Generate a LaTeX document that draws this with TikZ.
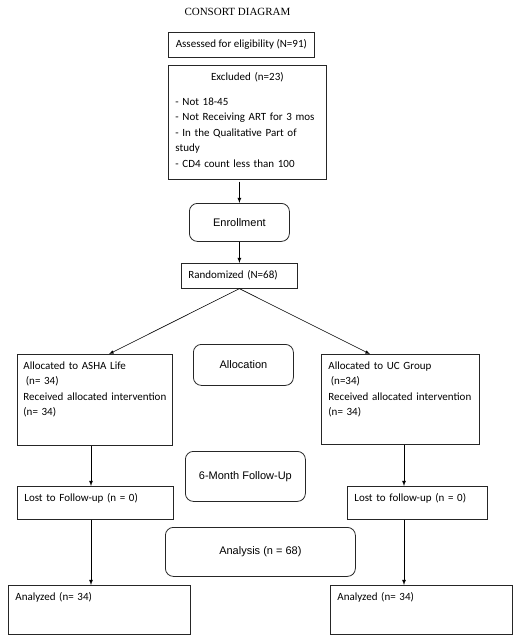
\documentclass[tikz,border=0pt]{standalone}
\usepackage{fontspec}
\newfontfamily\carlito{Carlito}
\newfontfamily\arialfont{Liberation Sans}
\newfontfamily\serifont{Liberation Serif}
\usetikzlibrary{arrows, calc}
\newcommand{\boxpad}[1]{\rule[-#1]{0pt}{#1}}

\begin{document}
\begin{tikzpicture}[>=latex, x=1pt, y=-1pt, line width=0.8pt,
		box/.style={draw=black!85, rectangle, anchor=north west, align=left, inner xsep=7pt, inner ysep=4pt, font=\carlito\fontsize{11}{15.5}\selectfont},
		stage/.style={draw=black!85, rectangle, rounded corners=8pt, anchor=north west, align=center, inner sep=0pt, font=\arialfont\fontsize{11}{13}\selectfont}]
			\useasboundingbox (0,0) rectangle (520,643);
			
			\node[font=\serifont\fontsize{11}{13}\selectfont] (title) at (237.5,12) {CONSORT DIAGRAM};
			
			\node[box, minimum width=146pt] (assess) at (168,32) {\strut Assessed for eligibility (N=91)\boxpad{6pt}};
			\node[box, text width=144pt] (excl) at (168,65) {\strut\hfill Excluded (n=23)\hfill\null\\[9.5pt]
				- Not 18-45\\
				- Not Receiving ART for 3 mos\\
				- In the Qualitative Part of\\
				study\\
				- CD4 count less than 100\boxpad{8pt}};
			
			\node[stage, minimum width=100pt, minimum height=38pt] (enroll) at (189,203) {Enrollment};
			\node[box, text width=102pt] (rand) at (181,263) {\strut Randomized (N=68)\boxpad{6pt}};
			
			\node[box, inner xsep=6pt, text width=143pt] (allocA) at (17,354) {\strut Allocated to ASHA Life\\
				\hspace{2.5pt}(n= 34)\\
				Received allocated intervention\\
				(n= 34)\boxpad{26pt}};
			\node[stage, minimum width=100pt, minimum height=41pt] (alloc) at (193,344) {Allocation};
			\node[box, text width=144pt] (allocB) at (321,354) {\strut Allocated to UC Group\\
				\hspace{2.5pt}(n=34)\\
				Received allocated intervention\\
				(n= 34)\boxpad{25pt}};
			
			\node[stage, minimum width=120pt, minimum height=50pt] (follow) at (185,451) {6-Month Follow-Up};
			\node[box, text width=142pt] (lostA) at (17,486) {\strut Lost to Follow-up (n = 0)\boxpad{14pt}};
			\node[box, text width=126pt] (lostB) at (347,486) {\strut Lost to follow-up (n = 0)\boxpad{14pt}};
			
			\node[stage, minimum width=190pt, minimum height=49pt] (analysis) at (165,527) {Analysis (n = 68)};
			\node[box, text width=168pt] (anaA) at (8,585) {\strut Analyzed (n= 34)\boxpad{30pt}};
			\node[box, text width=168pt] (anaB) at (330,585) {\strut Analyzed (n= 34)\boxpad{30pt}};
			
			\coordinate (colA) at (91,0);
			\coordinate (colB) at (404,0);
			\coordinate (splitA) at (109,0);
			\coordinate (splitB) at (370,0);
			
			\draw[->, shorten <=2pt] (excl.south -| enroll.north) -- (enroll.north);
			\draw[->] (enroll) -- (rand);
			
			\draw[->, line width=0.6pt] (rand.south) -- (allocA.north -| splitA);
			\draw[->, line width=0.6pt] (rand.south) -- (allocB.north -| splitB);
			
			\draw[->] (allocA.south -| colA) -- (lostA.north -| colA);
			\draw[->] (allocB.south -| colB) -- (lostB.north -| colB);
			
			\draw[->] (lostA.south -| colA) -- (anaA.north -| colA);
			\draw[->] (lostB.south -| colB) -- (anaB.north -| colB);
		\end{tikzpicture}
\end{document}
